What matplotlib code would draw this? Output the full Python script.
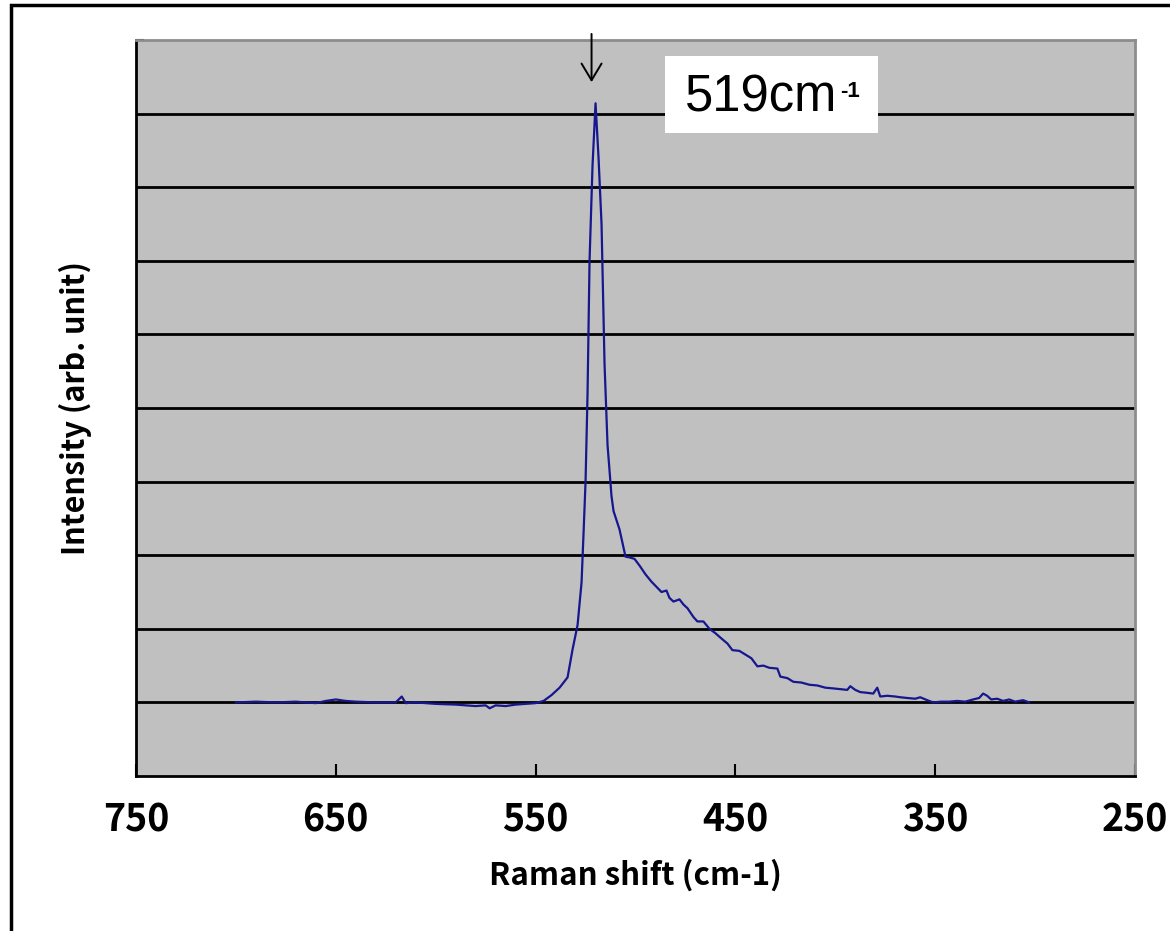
import matplotlib
matplotlib.use("Agg")
import matplotlib.pyplot as plt
from matplotlib.patches import Rectangle

# ---- data ----
raman_shift = [700, 690, 680, 670, 660, 655, 650, 645, 640, 630, 620, 617, 615, 610, 600,
               590, 580, 575, 573, 570, 565, 560, 555, 550, 546, 542, 538, 534, 531.5, 529,
               527, 526, 525, 524, 523, 521.5, 520, 518.5, 517, 515.5, 514, 512, 511, 508,
               505, 503, 500.5, 498, 495, 492, 489.5, 487, 484.5, 483, 481, 478, 476, 474,
               471, 469, 466, 463, 460, 457.5, 454, 451.5, 448, 445, 442, 439, 436, 433,
               429, 427.5, 424, 421, 417, 413, 409, 405, 401, 397.5, 394, 392.5, 390, 387.5,
               384, 381, 379, 377.5, 374, 370, 367.5, 364, 360, 357.5, 354, 351, 347, 343,
               339, 335, 331, 328, 326, 324, 322, 319, 316, 313, 310, 306, 303]
intensity = [0.0, 0.01, 0.0, 0.01, -0.01, 0.02, 0.04, 0.02, 0.01, 0.0, 0.0, 0.08, -0.01, 0.0, -0.02,
             -0.03, -0.05, -0.04, -0.08, -0.04, -0.05, -0.03, -0.02, -0.01, 0.02, 0.1, 0.2, 0.34, 0.72, 1.05,
             1.63, 2.3, 3.0, 4.2, 6.0, 7.3, 8.14, 7.4, 6.5, 4.6, 3.5, 2.8, 2.6, 2.35,
             1.98, 1.97, 1.95, 1.86, 1.74, 1.64, 1.57, 1.5, 1.52, 1.42, 1.37, 1.4, 1.33, 1.28,
             1.16, 1.1, 1.1, 1.0, 0.94, 0.88, 0.8, 0.71, 0.7, 0.65, 0.6, 0.49, 0.5, 0.47,
             0.46, 0.35, 0.33, 0.28, 0.27, 0.24, 0.23, 0.2, 0.19, 0.18, 0.17, 0.22, 0.17, 0.14,
             0.13, 0.12, 0.2, 0.08, 0.09, 0.08, 0.07, 0.06, 0.05, 0.07, 0.03, 0.0, 0.01, 0.01,
             0.02, 0.01, 0.04, 0.06, 0.12, 0.09, 0.04, 0.05, 0.02, 0.04, 0.01, 0.03, 0.0]
x_ticks = [750, 650, 550, 450, 350, 250]
x_tick_labels = ["750", "650", "550", "450", "350", "250"]
y_gridlines = [0, 1, 2, 3, 4, 5, 6, 7, 8]
peak_label = "519cm"
peak_label_sup = "-1"
peak_arrow_x = 522

W, H = 1170, 931
fig = plt.figure(figsize=(W / 100, H / 100), dpi=100)
fig.patch.set_facecolor("white")

# outer frame (only left and top edges are within the image)
fig.patches.append(Rectangle((11 / W, 0 - 0.02), 1.1, 1 - 5 / H + 0.02,
                             transform=fig.transFigure, fill=False,
                             edgecolor="black", linewidth=2.5, zorder=0))

ax = fig.add_axes([136 / W, 1 - 776 / H, (1135 - 136) / W, (776 - 40) / H])
ax.set_facecolor("#c0c0c0")

for yv in y_gridlines:
    ax.axhline(yv, color="black", linewidth=2.0, zorder=1)

ax.plot(raman_shift, intensity, color="#16168f", linewidth=1.6, zorder=3)

ax.set_xlim(750, 250)
ax.set_ylim(-1, 9)
ax.set_xticks(x_ticks)
ax.set_xticklabels(x_tick_labels)
ax.set_yticks([9])
ax.set_yticklabels([])

fam = ["Noto Sans CJK JP", "DejaVu Sans"]
for lab in ax.get_xticklabels():
    lab.set_fontfamily(fam)
    lab.set_fontweight("bold")
    lab.set_fontsize(27)
ax.tick_params(axis="x", direction="in", length=9, width=1.5, color="black", pad=18)
ax.tick_params(axis="y", direction="in", length=6, width=1.5, color="black")

for s in ("left", "bottom"):
    ax.spines[s].set_color("black")
    ax.spines[s].set_linewidth(2.0)
for s in ("top", "right"):
    ax.spines[s].set_color("#8c8c8c")
    ax.spines[s].set_linewidth(2.0)

ax.set_xlabel("Raman shift (cm-1)", family=fam, weight="bold", size=22.5, labelpad=14)
ax.set_ylabel("Intensity (arb. unit)", family=fam, weight="bold", size=22, labelpad=28)

# arrow pointing at the peak
ax.annotate("", xy=(peak_arrow_x, 8.39), xytext=(peak_arrow_x, 9.12),
            arrowprops=dict(arrowstyle="->, head_length=0.6, head_width=0.36",
                            color="black", linewidth=1.4, mutation_scale=20),
            annotation_clip=False)

# white label box with peak position
fig.patches.append(Rectangle((665 / W, 1 - 133 / H), (878 - 665) / W, (133 - 56) / H,
                             transform=fig.transFigure, facecolor="white",
                             edgecolor="none", zorder=5))
fig.text(685 / W, 1 - 112 / H, peak_label, fontsize=36.5,
         family=["Liberation Sans", "DejaVu Sans"], color="black",
         ha="left", va="baseline", zorder=6)
fig.text(840 / W, 1 - 97 / H, peak_label_sup, fontsize=16, fontweight="bold",
         family=["Liberation Sans", "DejaVu Sans"], color="black",
         ha="left", va="baseline", zorder=6)

fig.savefig("out.png", dpi=100)
